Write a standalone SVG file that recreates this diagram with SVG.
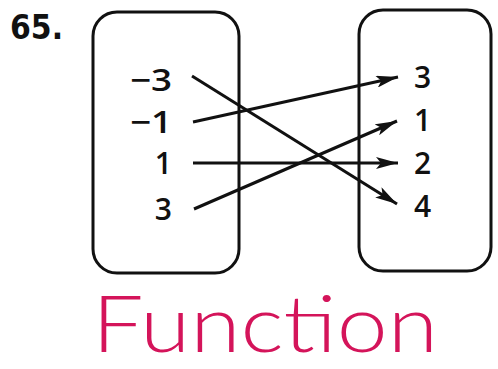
<svg xmlns="http://www.w3.org/2000/svg" width="498" height="369" viewBox="0 0 498 369">
<style>
.box{fill:none;stroke:#111;stroke-width:3}
.lbl{font-family:"Open Sans","Liberation Sans",sans-serif;font-size:30px;font-weight:600;fill:#111}
.edge{stroke:#111;stroke-width:3;fill:none;marker-end:url(#ah)}
</style>
<defs>
<marker id="ah" viewBox="0 0 22 12" refX="22" refY="6" markerWidth="22" markerHeight="12" markerUnits="userSpaceOnUse" orient="auto">
<path d="M0,0 L22,6 L0,12 L5,6 Z" fill="#111"/>
</marker>
</defs>
<rect width="498" height="369" fill="#fff"/>
<text x="10" y="39" font-family="'DejaVu Sans Condensed','Liberation Sans',sans-serif" font-weight="bold" font-size="33" fill="#111" textLength="53" lengthAdjust="spacingAndGlyphs">65.</text>
<g id="domain">
<rect class="box" x="93" y="12" width="146" height="261" rx="24"/>
<text class="lbl" x="172" y="91" text-anchor="end" textLength="42" lengthAdjust="spacingAndGlyphs">−3</text>
<text class="lbl" x="172" y="133" text-anchor="end" textLength="42" lengthAdjust="spacingAndGlyphs">−1</text>
<text class="lbl" x="172" y="174" text-anchor="end">1</text>
<text class="lbl" x="172" y="220" text-anchor="end">3</text>
</g>
<g id="range">
<rect class="box" x="359" y="10" width="132" height="261" rx="24"/>
<text class="lbl" x="414" y="88">3</text>
<text class="lbl" x="414" y="131">1</text>
<text class="lbl" x="414" y="174">2</text>
<text class="lbl" x="414" y="217">4</text>
</g>
<g id="connectors">
<line class="edge" x1="192" y1="76" x2="397" y2="204"/>
<line class="edge" x1="193" y1="122" x2="398" y2="77"/>
<line class="edge" x1="193" y1="163" x2="398" y2="163"/>
<line class="edge" x1="194" y1="209" x2="397" y2="121"/>
</g>
<text x="92" y="352" font-family="Lato,'Open Sans',sans-serif" font-weight="300" font-size="78" fill="#d4145a" textLength="346" lengthAdjust="spacingAndGlyphs">Function</text>
</svg>
